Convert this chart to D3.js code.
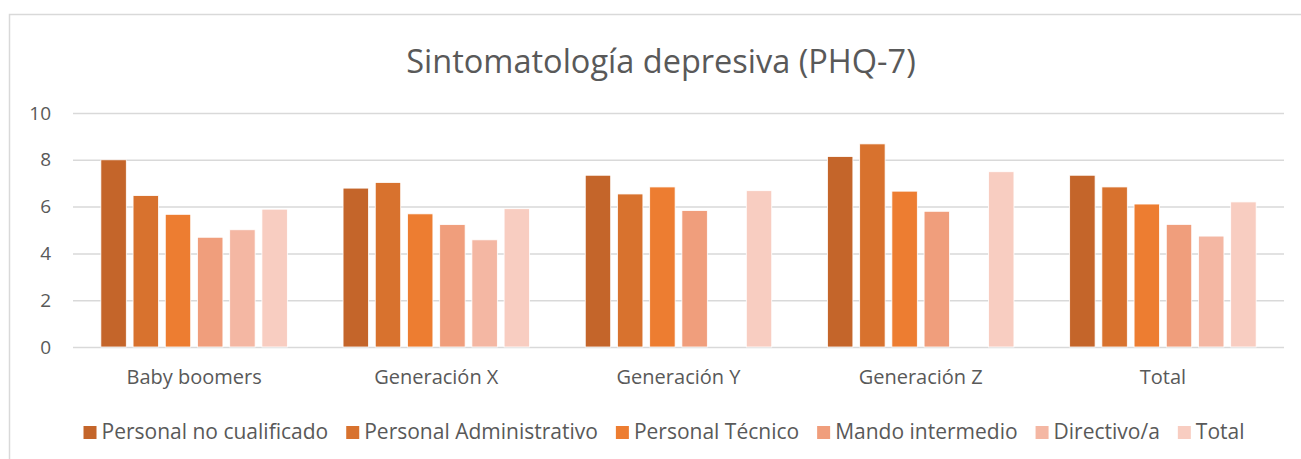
<!DOCTYPE html>
<html>
<head>
<meta charset="utf-8">
<script src="https://cdn.jsdelivr.net/npm/d3@7"></script>
<style>
  body { margin: 0; background: #fff; }
  text { font-family: "Open Sans", "Noto Sans", sans-serif; fill: #595959; }
</style>
</head>
<body>
<svg id="chart" width="1301" height="459"></svg>
<script>
// categories and series
var categories = ['Baby boomers', 'Generación X', 'Generación Y', 'Generación Z', 'Total'];
var seriesNames = ['Personal no cualificado', 'Personal Administrativo', 'Personal Técnico',
                   'Mando intermedio', 'Directivo/a', 'Total'];
var seriesColors = ['#C4652A', '#D8722E', '#ED7D31', '#F09E7C', '#F4B7A3', '#F8CDC1'];

// one array per series, values per category (null = no bar)
var noCualificado  = [8.00, 6.79, 7.34, 8.14, 7.34];
var administrativo = [6.47, 7.03, 6.54, 8.68, 6.84];
var tecnico        = [5.67, 5.69, 6.84, 6.66, 6.11];
var mandoInterm    = [4.69, 5.23, 5.83, 5.80, 5.24];
var directivo      = [5.01, 4.58, null, null, 4.74];
var totalSerie     = [5.89, 5.91, 6.68, 7.49, 6.20];
var yTicks = [0, 2, 4, 6, 8, 10];

var seriesValues = [noCualificado, administrativo, tecnico, mandoInterm, directivo, totalSerie];

var svg = d3.select('#chart');
var W = 1301, H = 459;
var margin = {left: 73, right: 17, top: 113, bottom: 112};

// chart border (cut off at right/bottom like the reference)
svg.append('rect')
    .attr('x', 9.5).attr('y', 14.5)
    .attr('width', W + 20).attr('height', H + 20)
    .attr('fill', 'none')
    .attr('stroke', '#D9D9D9')
    .attr('stroke-width', 1.5);

// title
svg.append('text')
    .attr('x', 661).attr('y', 73)
    .attr('text-anchor', 'middle')
    .style('font-size', '32.5px')
    .text('Sintomatología depresiva (PHQ-7)');

var x0 = d3.scaleBand()
    .domain(categories)
    .range([margin.left, W - margin.right]);

var gap = x0.bandwidth() * 0.23;
var x1 = d3.scaleBand()
    .domain(d3.range(seriesNames.length))
    .range([gap / 2, x0.bandwidth() - gap / 2])
    .paddingInner(0.21);

var y = d3.scaleLinear()
    .domain([0, 10])
    .range([H - margin.bottom, margin.top]);

// gridlines
svg.append('g')
    .selectAll('line')
    .data(yTicks)
    .join('line')
    .attr('x1', margin.left).attr('x2', W - margin.right)
    .attr('y1', function(d){ return y(d) + 0.5; })
    .attr('y2', function(d){ return y(d) + 0.5; })
    .attr('stroke', '#D9D9D9')
    .attr('stroke-width', 1.5);

// y axis labels
var yAxis = svg.append('g')
    .attr('transform', 'translate(' + (margin.left - 22) + ',0)')
    .call(d3.axisLeft(y).tickValues(yTicks).tickSize(0).tickPadding(0));
yAxis.select('.domain').remove();
yAxis.selectAll('text')
    .style('font-size', '19px')
    .style('font-family', null)
    .attr('fill', null);

// x axis labels
var xAxis = svg.append('g')
    .attr('transform', 'translate(0,' + (H - margin.bottom) + ')')
    .call(d3.axisBottom(x0).tickSize(0).tickPadding(23));
xAxis.select('.domain').remove();
xAxis.selectAll('text')
    .style('font-size', '20px')
    .style('font-family', null)
    .attr('fill', null);

// bars
var groups = svg.append('g')
    .selectAll('g')
    .data(categories)
    .join('g')
    .attr('transform', function(d){ return 'translate(' + x0(d) + ',0)'; });

groups.selectAll('rect')
    .data(function(d, ci){
        return seriesValues.map(function(vals, si){ return {s: si, v: vals[ci]}; })
            .filter(function(e){ return e.v != null; });
    })
    .join('rect')
    .attr('x', function(d){ return x1(d.s); })
    .attr('width', x1.bandwidth())
    .attr('y', function(d){ return y(d.v); })
    .attr('height', function(d){ return y(0) - y(d.v); })
    .attr('fill', function(d){ return seriesColors[d.s]; })
    .attr('stroke', '#ffffff')
    .attr('stroke-width', 0.8);

// legend
var legend = svg.append('g');
var items = legend.selectAll('g')
    .data(seriesNames)
    .join('g');
items.append('rect')
    .attr('width', 13).attr('height', 13)
    .attr('y', -13)
    .attr('fill', function(d, i){ return seriesColors[i]; });
items.append('text')
    .attr('x', 18)
    .style('font-size', '21px')
    .text(function(d){ return d; });

var pos = 0, itemGap = 18;
items.each(function(){
    var w = this.getBBox().width;
    d3.select(this).attr('data-x', pos);
    pos += w + itemGap;
});
var total = pos - itemGap;
var startX = 664 - total / 2;
items.attr('transform', function(){
    return 'translate(' + (startX + (+d3.select(this).attr('data-x'))) + ',439)';
});
</script>
</body>
</html>
